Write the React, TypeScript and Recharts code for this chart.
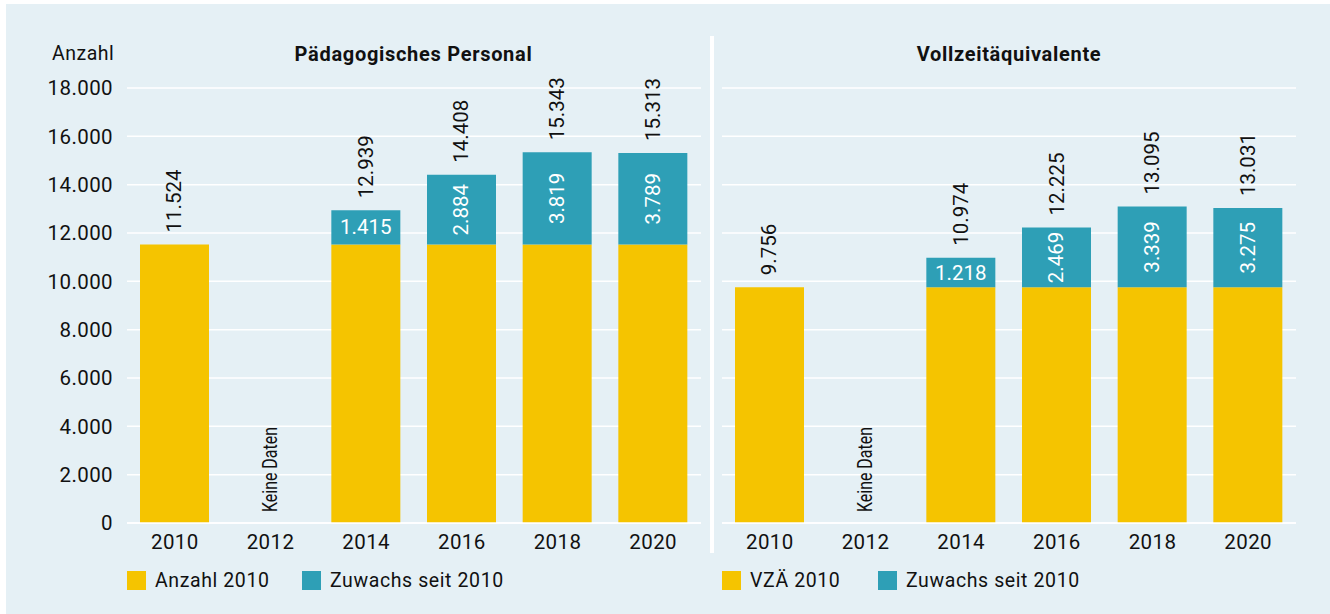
import React from "react";
import { BarChart, Bar, XAxis, YAxis, CartesianGrid, LabelList, ReferenceLine } from "recharts";

const years = ["2010", "2012", "2014", "2016", "2018", "2020"];
const yTicks = [0, 2000, 4000, 6000, 8000, 10000, 12000, 14000, 16000, 18000];

const personalBasis = [11524, null, 11524, 11524, 11524, 11524];
const personalZuwachs = [null, null, 1415, 2884, 3819, 3789];
const personalGesamt = [11524, null, 12939, 14408, 15343, 15313];

const vzaBasis = [9756, null, 9756, 9756, 9756, 9756];
const vzaZuwachs = [null, null, 1218, 2469, 3339, 3275];
const vzaGesamt = [9756, null, 10974, 12225, 13095, 13031];

const YELLOW = "#f5c400";
const TEAL = "#2e9fb6";
const BG = "#e5f0f5";
const INK = "#111";
const FONT = "Roboto, 'Noto Sans', sans-serif";
const VALUE_SIZE = 20.5;

const fmt = (v: number) => v.toLocaleString("de-DE");

function buildData(basis: (number | null)[], zuwachs: (number | null)[], gesamt: (number | null)[]) {
  return years.map((year, i) => ({
    year,
    basis: basis[i],
    zuwachs: zuwachs[i],
    // total shown above the top segment of each stack
    basisTop: zuwachs[i] == null ? gesamt[i] : null,
    zuwachsTop: zuwachs[i] != null ? gesamt[i] : null,
  }));
}

const topLabel = (props: any) => {
  const { x, y, width, value } = props;
  if (value == null) return null;
  const cx = x + width / 2;
  const ty = y - 12;
  return (
    <text
      x={cx}
      y={ty}
      transform={`rotate(-90 ${cx} ${ty})`}
      dominantBaseline="central"
      textAnchor="start"
      fontSize={VALUE_SIZE}
      fill={INK}
      fontFamily={FONT}
    >
      {fmt(value)}
    </text>
  );
};

const insideLabel = (props: any) => {
  const { x, y, width, height, value } = props;
  if (value == null) return null;
  const cx = x + width / 2;
  const cy = y + height / 2;
  // short segments get a horizontal label, as in the original
  const flat = height < 45;
  return (
    <text
      x={cx}
      y={cy}
      transform={flat ? undefined : `rotate(-90 ${cx} ${cy})`}
      dominantBaseline="central"
      textAnchor="middle"
      fontSize={VALUE_SIZE}
      fill="#fff"
      fontFamily={FONT}
    >
      {fmt(value)}
    </text>
  );
};

const keineDatenLabel = (props: any) => {
  const { viewBox } = props;
  const cx = viewBox.x + (viewBox.width || 0) / 2 - 1;
  const ty = viewBox.y + viewBox.height - 11;
  return (
    <g>
      <text
        x={cx}
        y={ty}
        transform={`rotate(-90 ${cx} ${ty})`}
        dominantBaseline="central"
        textAnchor="start"
        fill={INK}
        textLength={85}
        lengthAdjust="spacingAndGlyphs"
        style={{ fontSize: "21px", fontFamily: FONT }}
      >
        Keine Daten
      </text>
    </g>
  );
};

const tickStyle = { fill: INK, fontSize: VALUE_SIZE, fontFamily: FONT, style: { letterSpacing: "0.4px" } };

function Panel({
  data,
  gesamt,
  left,
  showYAxis,
  baseName,
}: {
  data: any[];
  gesamt: (number | null)[];
  left: number;
  showYAxis: boolean;
  baseName: string;
}) {
  const yWidth = showYAxis ? 127 : 0;
  const missing = years.filter((_, i) => gesamt[i] == null);
  return (
    <div style={{ position: "absolute", left, top: 0 }}>
      <BarChart
        width={yWidth + 574}
        height={614}
        data={data}
        margin={{ top: 88, right: 0, bottom: 61, left: 0 }}
        barSize={69}
      >
        <CartesianGrid vertical={false} stroke="#fff" strokeWidth={1.5} />
        <XAxis
          dataKey="year"
          axisLine={{ stroke: "#fff", strokeWidth: 1.5 }}
          tickLine={false}
          height={30}
          tickMargin={5}
          tick={tickStyle}
        />
        <YAxis
          hide={!showYAxis}
          width={yWidth}
          domain={[0, 18000]}
          ticks={yTicks}
          interval={0}
          axisLine={false}
          tickLine={false}
          tickMargin={8}
          tickFormatter={fmt}
          tick={tickStyle}
        />
        <Bar dataKey="basis" name={baseName} stackId="a" fill={YELLOW} isAnimationActive={false}>
          <LabelList dataKey="basisTop" content={topLabel} />
        </Bar>
        <Bar dataKey="zuwachs" name="Zuwachs seit 2010" stackId="a" fill={TEAL} isAnimationActive={false}>
          <LabelList dataKey="zuwachs" content={insideLabel} />
          <LabelList dataKey="zuwachsTop" content={topLabel} />
        </Bar>
        {missing.map((yr) => (
          <ReferenceLine key={yr} x={yr} stroke="none" label={keineDatenLabel} />
        ))}
      </BarChart>
    </div>
  );
}

function LegendItem({ color, label, left }: { color: string; label: string; left: number }) {
  return (
    <div style={{ position: "absolute", left, top: 571, display: "flex", alignItems: "center" }}>
      <div style={{ width: 19, height: 19, background: color }} />
      <span style={{ marginLeft: 9, fontSize: 19.5, letterSpacing: 0.6, color: INK, lineHeight: "19px" }}>{label}</span>
    </div>
  );
}

const titleStyle: React.CSSProperties = {
  position: "absolute",
  top: 42,
  textAlign: "center",
  fontSize: 20,
  fontWeight: 700,
  letterSpacing: 0.7,
  color: INK,
};

export default function App() {
  const personalData = buildData(personalBasis, personalZuwachs, personalGesamt);
  const vzaData = buildData(vzaBasis, vzaZuwachs, vzaGesamt);
  return (
    <div
      style={{
        position: "absolute",
        left: 0,
        top: 0,
        width: 1330,
        height: 614,
        background: "#fff",
        fontFamily: FONT,
      }}
    >
      <div style={{ position: "absolute", left: 6, top: 4, width: 1324, height: 610, background: BG }} />
      <Panel data={personalData} gesamt={personalGesamt} left={0} showYAxis baseName="Anzahl 2010" />
      <Panel data={vzaData} gesamt={vzaGesamt} left={722} showYAxis={false} baseName="VZÄ 2010" />
      <div style={{ position: "absolute", left: 710, top: 36, width: 4, height: 517, background: "#fff" }} />
      <div style={{ position: "absolute", left: 52, top: 42, fontSize: 19.5, letterSpacing: 0.5, color: INK }}>Anzahl</div>
      <div style={{ ...titleStyle, left: 127, width: 573 }}>Pädagogisches Personal</div>
      <div style={{ ...titleStyle, left: 722, width: 574 }}>Vollzeitäquivalente</div>
      <LegendItem color={YELLOW} label="Anzahl 2010" left={127} />
      <LegendItem color={TEAL} label="Zuwachs seit 2010" left={302} />
      <LegendItem color={YELLOW} label="VZÄ 2010" left={722} />
      <LegendItem color={TEAL} label="Zuwachs seit 2010" left={878} />
    </div>
  );
}
